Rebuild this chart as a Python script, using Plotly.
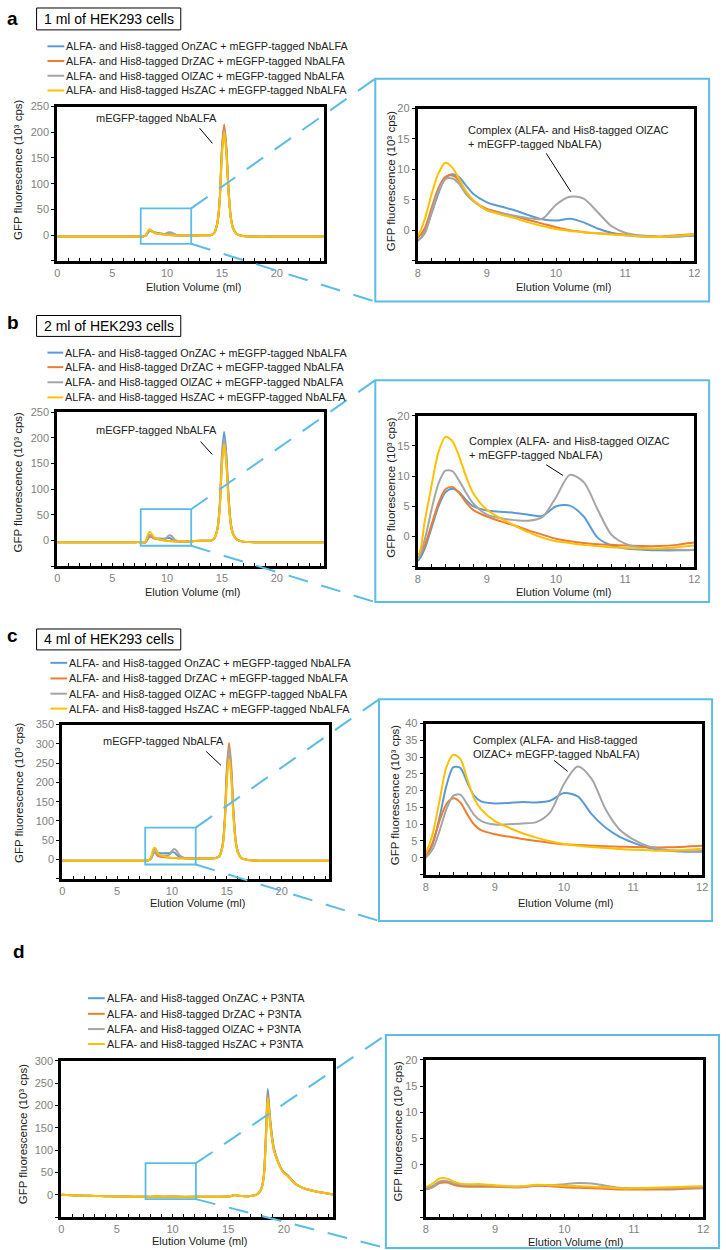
import plotly.graph_objects as go

W, H = 726, 1250
FONT = "Liberation Sans, Arial, sans-serif"
SKY = "#5BBDE6"
TXT = "#222222"
TICKC = "#808080"

SERIES = ["OnZAC", "DrZAC", "OlZAC", "HsZAC"]
COLORS = ["#5B9BD5", "#ED7D31", "#A5A5A5", "#FFC000"]
LEGEND_ABC = ["ALFA- and His8-tagged %s + mEGFP-tagged NbALFA" % s for s in SERIES]
LEGEND_D = ["ALFA- and His8-tagged %s + P3NTA" % s for s in SERIES]
TITLES = ["1 ml of HEK293 cells", "2 ml of HEK293 cells", "4 ml of HEK293 cells"]
LETTERS = ["a", "b", "c", "d"]
PEAK_LABEL = "mEGFP-tagged NbALFA"
COMPLEX_LABEL_AB = "Complex (ALFA- and His8-tagged OlZAC<br>+ mEGFP-tagged NbALFA)"
COMPLEX_LABEL_C = "Complex (ALFA- and His8-tagged<br>OlZAC+ mEGFP-tagged NbALFA)"
X_TITLE = "Elution Volume (ml)"
Y_TITLE = "GFP fluorescence (10³ cps)"

# elution volumes (ml)
X_ABC = [0, 3, 6, 7, 7.5, 7.8,
         8.0, 8.1, 8.2, 8.3, 8.4, 8.5, 8.6, 8.7, 8.8, 9.0, 9.2, 9.4, 9.6, 9.8,
         10.0, 10.2, 10.4, 10.6, 10.8, 11.0, 11.25, 11.5, 11.75, 12.0,
         12.5, 13.0, 13.5, 14.0, 14.3, 14.6, 14.8, 15.0, 15.2, 15.4, 15.6, 15.8,
         16.0, 16.3, 16.7, 17.2, 18.0, 20.0, 22.0, 24.3]
X_D = [0, 1, 2, 3, 4, 5, 6, 7, 7.5, 7.8,
       8.0, 8.1, 8.2, 8.3, 8.4, 8.5, 8.6, 8.7, 8.8, 9.0, 9.2, 9.4, 9.6, 9.8,
       10.0, 10.2, 10.4, 10.6, 10.8, 11.0, 11.25, 11.5, 11.75, 12.0,
       12.5, 13.0, 14.0, 14.8, 15.3, 15.6, 15.9, 16.5, 17.0, 17.5, 17.8, 18.0,
       18.2, 18.4, 18.55, 18.7, 18.9, 19.1, 19.4, 19.7, 20.0, 20.3, 20.6, 21.0,
       21.5, 22.0, 23.0, 24.4]

# panel a (1 ml)
A_ON = [-3, -3, -3, -3, -3, -2.7,
        -1.7, -0.3, 2.8, 6.1, 8.6, 9.2, 8.7, 7.3, 6.0, 4.6, 3.9, 3.3, 2.5, 1.8,
        1.6, 1.9, 1.3, 0.3, -0.4, -0.8, -1.0, -1.1, -1.0, -0.9,
        -0.8, -0.5, -0.4, 0, 4, 25, 69, 164, 210, 168, 88, 36,
        15, 3, -1, -2.5, -3, -3, -3, -3]
A_DR = [-3, -3, -3, -3, -3, -2.7,
        -1.2, 0.3, 3.7, 7.0, 8.8, 9.0, 8.1, 6.1, 4.9, 3.5, 2.9, 2.3, 1.7, 1.1,
        0.5, 0.0, -0.3, -0.5, -0.6, -0.7, -0.9, -1.0, -0.8, -0.65,
        -0.8, -0.5, -0.4, 0, 4, 26, 71, 168, 215, 172, 90, 37,
        15, 3, -1, -2.5, -3, -3, -3, -3]
A_OL = [-3, -3, -3, -3, -3, -2.7,
        -1.7, -0.5, 3.0, 6.4, 8.4, 8.5, 7.6, 5.9, 4.8, 3.3, 2.8, 2.4, 2.0, 1.9,
        4.2, 5.5, 5.2, 3.0, 0.7, -0.4, -0.9, -1.1, -1.0, -0.9,
        -0.8, -0.5, -0.4, 0, 4, 25, 68, 160, 205, 164, 86, 35,
        14, 3, -1, -2.5, -3, -3, -3, -3]
A_HS = [-3, -3, -3, -3, -3, -2.7,
        -0.9, 1.8, 6.0, 9.4, 11.1, 10.3, 8.4, 6.4, 5.0, 3.3, 2.6, 2.0, 1.3, 0.7,
        0.2, -0.1, -0.3, -0.5, -0.7, -0.8, -1.0, -1.1, -0.9, -0.7,
        -0.8, -0.5, -0.4, 0, 4, 24, 66, 156, 200, 160, 84, 34,
        14, 3, -1, -2.5, -3, -3, -3, -3]

# panel b (2 ml)
B_ON = [-3, -3, -3, -3, -3, -3.3,
        -4.0, -2.0, 1.5, 5.0, 7.3, 7.9, 7.3, 6.0, 5.0, 4.3, 4.1, 3.9, 3.6, 3.4,
        5.0, 5.1, 3.3, -0.2, -1.5, -2.0, -2.2, -2.3, -2.3, -2.2,
        -1.0, -0.5, -0.5, 0, 4, 25, 70, 166, 211, 169, 89, 36,
        15, 3, -1, -2.5, -3, -3, -3, -3]
B_DR = [-3, -3, -3, -3, -3, -3.3,
        -3.5, -1.5, 2.0, 5.5, 7.8, 8.2, 7.2, 5.6, 4.4, 3.3, 2.5, 1.8, 1.0, 0.3,
        -0.4, -0.8, -1.1, -1.3, -1.4, -1.5, -1.6, -1.6, -1.4, -1.0,
        -1.0, -0.5, -0.5, 0, 4, 23, 63, 150, 192, 154, 81, 33,
        13, 3, -1, -2.5, -3, -3, -3, -3]
B_OL = [-3, -3, -3, -3, -3, -3.3,
        -3.5, -0.5, 4.5, 8.8, 10.9, 10.8, 9.2, 7.2, 5.5, 3.6, 3.0, 2.7, 2.6, 3.2,
        6.5, 10.2, 9.0, 4.5, 0.3, -1.2, -1.9, -2.1, -2.2, -2.2,
        -1.0, -0.5, -0.5, 0, 4, 24, 66, 156, 200, 160, 84, 34,
        14, 3, -1, -2.5, -3, -3, -3, -3]
B_HS = [-3, -3, -3, -3, -3, -3.2,
        -3.2, 2.5, 8.5, 14.0, 16.5, 15.8, 13.2, 9.9, 7.2, 4.4, 3.0, 1.8, 0.7, -0.2,
        -0.8, -1.1, -1.4, -1.6, -1.8, -1.9, -2.0, -2.0, -1.8, -1.5,
        -1.0, -0.5, -0.5, 0, 4, 23, 62, 147, 188, 150, 79, 32,
        13, 3, -1, -2.5, -3, -3, -3, -3]

# panel c (4 ml)
C_ON = [-3, -3, -3, -3, -3, -2.5,
        0.3, 4.0, 12.0, 21.5, 27.0, 26.8, 22.5, 18.5, 16.8, 16.2, 16.3, 16.6, 16.5, 17.0,
        19.3, 18.3, 13.0, 9.0, 6.3, 4.5, 2.8, 2.1, 1.8, 1.8,
        2.5, 2.5, 2.5, 4, 8, 34, 92, 218, 280, 224, 118, 48,
        20, 4, 0, -2, -3, -3, -3, -3]
C_DR = [-3, -3, -3, -3, -3, -2.5,
        0.5, 4.5, 11.0, 16.0, 17.7, 16.5, 13.0, 9.9, 8.2, 7.0, 6.3, 5.6, 5.0, 4.5,
        4.0, 3.8, 3.6, 3.4, 3.3, 3.2, 3.1, 3.1, 3.3, 3.6,
        3.0, 2.5, 2.5, 4, 8, 36, 100, 236, 302, 242, 127, 51,
        21, 4, 0, -2, -3, -3, -3, -3]
C_OL = [-3, -3, -3, -3, -3, -2.5,
        0.0, 2.5, 8.0, 14.5, 18.5, 18.8, 16.0, 12.8, 11.0, 9.9, 10.0, 10.2, 10.6, 13.5,
        22.0, 27.2, 23.5, 14.5, 8.5, 5.5, 3.2, 2.3, 2.0, 2.0,
        2.5, 2.5, 2.5, 4, 8, 35, 96, 226, 290, 232, 122, 49,
        20, 4, 0, -2, -3, -3, -3, -3]
C_HS = [-3, -3, -3, -3, -3, -2.5,
        1.5, 7.0, 17.0, 27.0, 30.7, 29.5, 23.5, 17.7, 14.5, 10.9, 9.0, 7.3, 6.0, 4.9,
        4.1, 3.6, 3.2, 2.9, 2.6, 2.4, 2.2, 2.1, 2.3, 2.7,
        2.5, 2.5, 2.5, 4, 8, 31, 86, 204, 262, 210, 110, 45,
        18, 4, 0, -2, -3, -3, -3, -3]

# panel d (P3NTA)
D_ON = [0, -1.0, -1.8, -2.5, -3.0, -3.5, -3.9, -4.2, -4.3, -4.4,
        -4.6, -4.1, -3.3, -3.2, -3.6, -3.9, -4.0, -4.0, -4.0, -4.1, -4.2, -4.2, -3.9, -4.0,
        -4.1, -4.2, -4.3, -4.4, -4.5, -4.6, -4.6, -4.5, -4.4, -4.3,
        -4.3, -4.3, -4.2, -4.0, -2.5, -0.5, -2.0, -3.0, -2.5, 0, 6, 16,
        45, 145, 237, 190, 140, 105, 80, 62, 50, 45, 37, 26,
        18, 13, 7, 1]
D_DR = [0, -1.0, -1.8, -2.5, -3.0, -3.5, -3.9, -4.2, -4.3, -4.4,
        -4.7, -4.3, -3.5, -3.4, -3.8, -4.1, -4.2, -4.2, -4.2, -4.2, -4.3, -4.3, -4.0, -4.1,
        -4.3, -4.4, -4.5, -4.6, -4.7, -4.7, -4.7, -4.7, -4.6, -4.5,
        -4.4, -4.4, -4.3, -4.1, -2.6, -0.6, -2.1, -3.1, -2.6, 0, 6, 15,
        43, 138, 226, 182, 135, 102, 78, 61, 49, 44, 36, 25,
        18, 13, 7, 1]
D_OL = [0, -1.0, -1.8, -2.5, -3.0, -3.5, -3.9, -4.2, -4.3, -4.4,
        -4.7, -4.2, -3.2, -3.1, -3.5, -3.8, -3.9, -3.9, -3.9, -4.0, -4.2, -4.2, -3.9, -3.9,
        -3.7, -3.5, -3.6, -4.0, -4.4, -4.5, -4.5, -4.5, -4.4, -4.4,
        -4.3, -4.3, -4.2, -4.0, -2.5, -0.5, -2.0, -3.0, -2.5, 0, 6, 15,
        42, 135, 220, 178, 133, 101, 78, 61, 49, 44, 36, 25,
        18, 13, 7, 1]
D_HS = [0, -1.0, -1.8, -2.5, -3.0, -3.5, -3.9, -4.2, -4.3, -4.4,
        -4.3, -3.6, -2.6, -2.6, -3.2, -3.6, -3.7, -3.7, -3.7, -3.9, -4.1, -4.1, -3.8, -3.9,
        -4.0, -4.1, -4.2, -4.3, -4.5, -4.5, -4.4, -4.3, -4.2, -4.1,
        -4.2, -4.2, -4.1, -3.9, -2.4, -0.4, -1.9, -2.9, -2.4, 0, 6, 15,
        42, 132, 217, 176, 132, 100, 77, 60, 48, 43, 35, 25,
        18, 13, 7, 1]

PANELS = [
    dict(x=X_ABC, ys=[A_ON, A_DR, A_OL, A_HS], legend=LEGEND_ABC, title=TITLES[0],
         main=(55, 325, 101, 256), mxr=[0, 24.3], myr=[-50, 250], myt=[-50, 0, 50, 100, 150, 200, 250],
         inset=(420, 700, 103, 256), iyr=[-5, 20], iyt=[-5, 0, 5, 10, 15, 20],
         rect=(7.6, 12.2, -17, 52), box=(377, 715, 73, 297),
         letter=(2, 13), tbox=(34, 180, 2, 24), leg_x=(45, 62), leg_y=[40.5, 55.3, 70.1, 84.9],
         peak=(155, 113, 199, 122.7, 212, 138), cplx=(469, 131.5, 550, 148, 575, 186.7, COMPLEX_LABEL_AB),
         ytit_m=(15, 164), ytit_i=(393, 176), xtit_m=(193, 282.7), xtit_i=(568, 282)),
    dict(x=X_ABC, ys=[B_ON, B_DR, B_OL, B_HS], legend=LEGEND_ABC, title=TITLES[1],
         main=(55, 325, 408, 563), mxr=[0, 24.3], myr=[-50, 250], myt=[-50, 0, 50, 100, 150, 200, 250],
         inset=(420, 700, 411.7, 563.3), iyr=[-5, 20], iyt=[-5, 0, 5, 10, 15, 20],
         rect=(7.6, 12.2, -10, 61), box=(377, 715, 376, 599),
         letter=(2, 318), tbox=(34, 180, 311, 332), leg_x=(45, 61), leg_y=[348.3, 362.9, 378.1, 393.3],
         peak=(155, 425.7, 200, 437.7, 212, 450.7), cplx=(470, 443.8, 550, 461, 567, 471.7, COMPLEX_LABEL_AB),
         ytit_m=(15, 478), ytit_i=(393, 484), xtit_m=(192, 589), xtit_i=(568, 589)),
    dict(x=X_ABC, ys=[C_ON, C_DR, C_OL, C_HS], legend=LEGEND_ABC, title=TITLES[2],
         main=(60, 330, 722, 877), mxr=[0, 24.3], myr=[-50, 350], myt=[-50, 0, 50, 100, 150, 200, 250, 300, 350],
         inset=(428, 708, 721, 872.7), iyr=[-5, 40], iyt=[-5, 0, 5, 10, 15, 20, 25, 30, 35, 40],
         rect=(7.56, 12.16, -13, 82.7), box=(380.7, 718, 696.7, 919.3),
         letter=(2, 633), tbox=(34, 180, 626, 647), leg_x=(48, 65), leg_y=[660, 675.7, 691, 706],
         peak=(163, 739, 205.7, 749, 220.7, 763), cplx=(474, 744.8, 558, 758, 571.7, 769, COMPLEX_LABEL_C),
         ytit_m=(16, 790), ytit_i=(397, 793), xtit_m=(197, 901.7), xtit_i=(570, 901.7)),
    dict(x=X_D, ys=[D_ON, D_DR, D_OL, D_HS], legend=LEGEND_D, title=None,
         main=(59, 334, 1060, 1217), mxr=[0, 24.4], myr=[-50, 300], myt=[-50, 0, 50, 100, 150, 200, 250, 300],
         inset=(428, 709, 1059, 1217), iyr=[-10, 20], iyt=[-10, -5, 0, 5, 10, 15, 20],
         rect=(7.57, 12.1, -9.6, 71), box=(387.7, 725, 1034, 1248),
         letter=(8, 950), tbox=None, leg_x=(86, 103), leg_y=[997, 1012.7, 1028, 1043],
         peak=None, cplx=None,
         ytit_m=(20, 1133), ytit_i=(400, 1131), xtit_m=(199, 1241), xtit_i=(580, 1241.7)),
]


def px(x):
    return x / W


def py(y):
    return 1 - y / H


def d2px(v, rng, a, b):
    return a + (v - rng[0]) / (rng[1] - rng[0]) * (b - a)


def note(text, x, y, xa="center", ya="middle", size=11, color=TXT, **kw):
    return dict(text=text, x=px(x), y=py(y), xref="paper", yref="paper",
                xanchor=xa, yanchor=ya, showarrow=False,
                font=dict(family=FONT, size=size, color=color), **kw)


fig = go.Figure()
layout = dict(width=W, height=H, margin=dict(l=0, r=0, t=0, b=0),
              paper_bgcolor="white", plot_bgcolor="white", showlegend=False,
              font=dict(family=FONT, size=11, color=TXT))
shapes, annos = [], []

for i, p in enumerate(PANELS):
    for k, (kind, box) in enumerate([("main", p["main"]), ("inset", p["inset"])]):
        n = 2 * i + k + 1
        xa = "xaxis" if n == 1 else "xaxis%d" % n
        ya = "yaxis" if n == 1 else "yaxis%d" % n
        xr = "x" if n == 1 else "x%d" % n
        yr = "y" if n == 1 else "y%d" % n
        l, r, t, b = box
        if kind == "main":
            xrange, yrange, yt = p["mxr"], p["myr"], p["myt"]
            xt, mdt = [0, 5, 10, 15, 20], 1
        else:
            xrange, yrange, yt = [8, 12], p["iyr"], p["iyt"]
            xt, mdt = [8, 9, 10, 11, 12], 0.2
        layout[xa] = dict(domain=[px(l), px(r)], anchor=yr, range=xrange, tickvals=xt,
                          ticks="inside", ticklen=3, tickwidth=1, tickcolor="black",
                          minor=dict(dtick=mdt, tick0=xrange[0], ticks="inside", ticklen=3,
                                     tickwidth=1, tickcolor="black"),
                          showline=True, linewidth=3, linecolor="black", mirror=True,
                          showgrid=False, zeroline=False,
                          tickfont=dict(family=FONT, size=11, color=TICKC))
        layout[ya] = dict(domain=[py(b), py(t)], anchor=xr, range=yrange, tickvals=yt,
                          ticktext=[("" if v < 0 else str(v)) for v in yt],
                          ticks="outside", ticklen=3, tickwidth=1, tickcolor="black",
                          showline=True, linewidth=3, linecolor="black", mirror=True,
                          showgrid=False, zeroline=False,
                          tickfont=dict(family=FONT, size=11, color=TICKC))
        for s, (yv, col) in enumerate(zip(p["ys"], COLORS)):
            fig.add_trace(go.Scatter(x=p["x"], y=yv, mode="lines", xaxis=xr, yaxis=yr,
                                     line=dict(color=col, width=2, shape="spline", smoothing=0.8),
                                     name=SERIES[s], hoverinfo="skip"))

    # zoom rectangle in main plot
    n = 2 * i + 1
    xr = "x" if n == 1 else "x%d" % n
    yr = "y" if n == 1 else "y%d" % n
    x0, x1, y0, y1 = p["rect"]
    shapes.append(dict(type="rect", xref=xr, yref=yr, x0=x0, x1=x1, y0=y0, y1=y1,
                       line=dict(color=SKY, width=1.8)))
    l, r, t, b = p["main"]
    cx = d2px(x1, p["mxr"], l, r)
    cyt = d2px(y1, p["myr"], b, t)
    cyb = d2px(y0, p["myr"], b, t)
    bl, br, bt, bb = p["box"]
    for (ya0, ya1) in [(cyt, bt), (cyb, bb)]:
        shapes.append(dict(type="line", xref="paper", yref="paper", x0=px(cx), y0=py(ya0),
                           x1=px(bl), y1=py(ya1), line=dict(color=SKY, width=2, dash="20px,14px")))
    shapes.append(dict(type="rect", xref="paper", yref="paper", x0=px(bl), x1=px(br),
                       y0=py(bb), y1=py(bt), line=dict(color=SKY, width=2)))

    # panel letter
    lx, ly = p["letter"]
    annos.append(note("<b>%s</b>" % LETTERS[i], lx, ly, xa="left", size=19, color="black"))
    # title box
    if p["tbox"]:
        tl, tr, tt, tb = p["tbox"]
        shapes.append(dict(type="rect", xref="paper", yref="paper", x0=px(tl), x1=px(tr),
                           y0=py(tb), y1=py(tt), line=dict(color="black", width=1)))
        annos.append(note(p["title"], (tl + tr) / 2, (tt + tb) / 2, size=14, color="black"))
    # legend
    gx0, gx1 = p["leg_x"]
    for s, gy in enumerate(p["leg_y"]):
        shapes.append(dict(type="line", xref="paper", yref="paper", x0=px(gx0), x1=px(gx1),
                           y0=py(gy), y1=py(gy), line=dict(color=COLORS[s], width=2)))
        annos.append(note(p["legend"][s], gx1, gy, xa="left", size=10.8))
    # peak labels
    if p["peak"]:
        tx, ty, lx0, ly0, lx1, ly1 = p["peak"]
        annos.append(note(PEAK_LABEL, tx, ty))
        shapes.append(dict(type="line", xref="paper", yref="paper", x0=px(lx0), y0=py(ly0),
                           x1=px(lx1), y1=py(ly1), line=dict(color="black", width=1)))
    if p["cplx"]:
        tx, ty, lx0, ly0, lx1, ly1, txt = p["cplx"]
        annos.append(note(txt, tx, ty, xa="left", align="left"))
        shapes.append(dict(type="line", xref="paper", yref="paper", x0=px(lx0), y0=py(ly0),
                           x1=px(lx1), y1=py(ly1), line=dict(color="black", width=1)))
    # axis titles
    for (ax, ay) in [p["ytit_m"], p["ytit_i"]]:
        annos.append(note(Y_TITLE, ax, ay, size=11.5, textangle=-90))
    for (ax, ay) in [p["xtit_m"], p["xtit_i"]]:
        annos.append(note(X_TITLE, ax, ay))

layout["shapes"] = shapes
layout["annotations"] = annos
fig.update_layout(**layout)
fig.write_html("out.html",
               config={"displayModeBar": False},
               post_script="document.body.style.margin='0px';"
                           "document.body.style.padding='0px';"
                           "document.documentElement.style.overflow='hidden';"
                           "document.body.style.overflow='hidden';")
